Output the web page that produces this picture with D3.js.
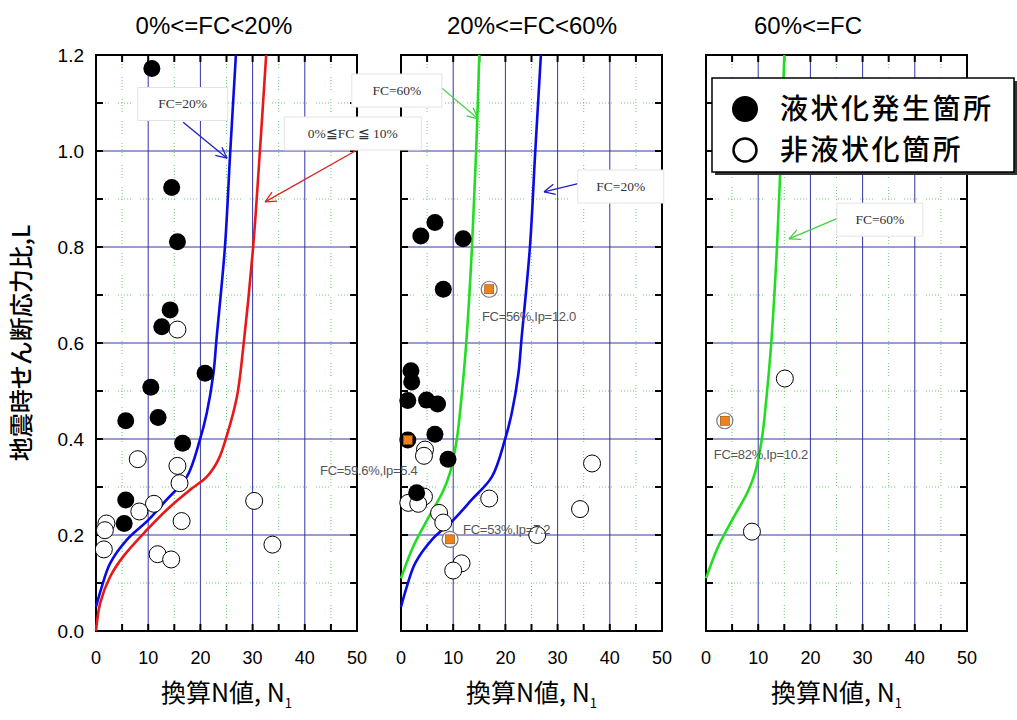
<!DOCTYPE html>
<html>
<head>
<meta charset="utf-8">
<script src="https://cdn.jsdelivr.net/npm/d3@7"></script>
<style>
  body { margin: 0; background: #fff; }
  svg { display: block; }
</style>
</head>
<body>
<script>
const width = 1017, height = 720;

// chart data
const titles = ["0%<=FC<20%", "20%<=FC<60%", "60%<=FC"];
const xTicks = [0, 10, 20, 30, 40, 50];
const yTicks = [0, 0.2, 0.4, 0.6, 0.8, 1.0, 1.2];

// boundary curves [N1, L]
const curveFC20 = [[0,0.05],[1.1,0.092],[2.7,0.141],[5.9,0.19],[10,0.231],[13.5,0.273],[17.4,0.321],[19.9,0.398],[21.2,0.453],[22.5,0.537],[23.1,0.61],[24.7,0.80],[25.7,0.995],[26.8,1.2]];
const curveFC10 = [[0,0],[0.8,0.058],[2.7,0.113],[5.2,0.155],[9.7,0.21],[14.2,0.259],[18,0.294],[21.2,0.321],[23.4,0.356],[25,0.405],[27,0.488],[28.2,0.59],[30.1,0.8],[31.4,1.0],[32.6,1.2]];
const curveFC60 = [[0,0.11],[2.3,0.175],[5.2,0.235],[8,0.29],[9.4,0.33],[10.7,0.4],[11.6,0.488],[12.5,0.6],[13.6,0.8],[14.4,1.0],[15,1.2]];

// observed points [N1, L]
const liq1 = [[10.7,1.172],[14.5,0.924],[15.6,0.811],[14.2,0.669],[12.6,0.634],[20.9,0.537],[10.5,0.508],[5.7,0.438],[11.9,0.445],[16.6,0.391],[5.7,0.273],[5.4,0.224]];
const non1 = [[15.6,0.628],[8.0,0.358],[15.6,0.344],[16.0,0.308],[11.1,0.265],[8.3,0.249],[2.0,0.224],[1.7,0.21],[1.5,0.17],[16.4,0.229],[11.8,0.16],[14.4,0.149],[30.3,0.271],[33.8,0.18]];
const liq2 = [[6.5,0.851],[3.8,0.823],[11.9,0.817],[8.1,0.712],[1.9,0.542],[2.05,0.519],[1.3,0.48],[4.9,0.481],[7.0,0.473],[6.5,0.41],[9.0,0.358],[3.0,0.288],[1.3,0.398]];
const non2 = [[4.6,0.378],[4.4,0.365],[4.4,0.28],[1.4,0.267],[3.3,0.265],[7.3,0.246],[8.1,0.226],[16.9,0.276],[36.6,0.349],[34.3,0.254],[26.1,0.2],[11.6,0.141],[10.0,0.126]];
const liq3 = [];
const non3 = [[15.1,0.526],[8.8,0.207]];

// points with plasticity notes [N1, L, liquefied, label, labelN1, labelL]
const marked2 = [[16.9,0.712,false,"FC=56%,Ip=12.0",15.5,0.656],[1.3,0.398,true,"FC=59.6%,Ip=5.4",-15.5,0.335],[9.4,0.191,false,"FC=53%,Ip=7.2",11.9,0.2125]];
const marked3 = [[3.6,0.438,false,"FC=82%,Ip=10.2",1.5,0.369]];

// callouts: [panel, text, textN1, textL, fromN1, fromL, toN1, toL, boxW, color]
const callouts = [
  [0, "FC=20%", 16.6, 1.099, 16.7, 1.06, 25.1, 0.985, 90, "#2020c0"],
  [0, "0%≦FC ≦ 10%", 49.2, 1.0375, 50, 1.002, 32.4, 0.894, 137, "#e02020"],
  [1, "FC=60%", -0.8, 1.127, 7.85, 1.131, 14.75, 1.067, 90, "#40d040"],
  [1, "FC=20%", 42.1, 0.927, 34.3, 0.933, 27.4, 0.915, 86, "#2020c0"],
  [2, "FC=60%", 33.3, 0.858, 25.3, 0.86, 15.9, 0.817, 86, "#40d040"]
];

const panels = [
  { left: 96,  title: titles[0], tx: 214, curves: [[curveFC20, "#0a0ae6"], [curveFC10, "#e81818"]], liq: liq1, non: non1, marked: [] },
  { left: 401, title: titles[1], tx: 532, curves: [[curveFC60, "#22dd22"], [curveFC20, "#0a0ae6"]], liq: liq2, non: non2, marked: marked2 },
  { left: 706, title: titles[2], tx: 808, curves: [[curveFC60, "#22dd22"]], liq: liq3, non: non3, marked: marked3 }
];

const pw = 261, plotTop = 55, plotBottom = 631;
const y = d3.scaleLinear().domain([0, 1.2]).range([plotBottom, plotTop]);

const svg = d3.select("body").append("svg")
    .attr("width", width).attr("height", height)
    .style("font-family", "'Liberation Sans', Arial, sans-serif");
svg.append("rect").attr("width", width).attr("height", height).attr("fill", "#fff");

const cond = "'Liberation Sans Narrow', 'Liberation Sans', sans-serif";
const jp = "'Noto Sans CJK JP', sans-serif";

panels.forEach((p, pi) => {
  const x = d3.scaleLinear().domain([0, 50]).range([p.left, p.left + pw]);
  p.x = x;
  const g = svg.append("g");

  // green dotted minor grid
  const minX = d3.range(5, 50, 10), minY = d3.range(0.1, 1.2, 0.2);
  g.selectAll(".mx").data(minX).enter().append("line")
    .attr("x1", d => x(d)).attr("x2", d => x(d)).attr("y1", plotTop).attr("y2", plotBottom)
    .attr("stroke", "#66cc66").attr("stroke-width", 1).attr("stroke-dasharray", "1 2 1 2 1 2 1 2 1 9");
  g.selectAll(".my").data(minY).enter().append("line")
    .attr("x1", p.left).attr("x2", p.left + pw).attr("y1", d => y(d)).attr("y2", d => y(d))
    .attr("stroke", "#66cc66").attr("stroke-width", 1).attr("stroke-dasharray", "1 2 1 2 1 2 1 2 1 9");

  // blue major grid
  g.selectAll(".gx").data([10, 20, 30, 40]).enter().append("line")
    .attr("x1", d => x(d)).attr("x2", d => x(d)).attr("y1", plotTop).attr("y2", plotBottom)
    .attr("stroke", "#3434a8").attr("stroke-width", 1);
  g.selectAll(".gy").data([0.2, 0.4, 0.6, 0.8, 1.0]).enter().append("line")
    .attr("x1", p.left).attr("x2", p.left + pw).attr("y1", d => y(d)).attr("y2", d => y(d))
    .attr("stroke", "#3434a8").attr("stroke-width", 1);

  // inward ticks
  const tx = d3.range(0, 51, 5), ty = d3.range(0, 1.21, 0.1);
  const tl = 7;
  tx.forEach(v => {
    g.append("line").attr("x1", x(v)).attr("x2", x(v)).attr("y1", plotTop).attr("y2", plotTop + tl).attr("stroke", "#000").attr("stroke-width", 2);
    g.append("line").attr("x1", x(v)).attr("x2", x(v)).attr("y1", plotBottom).attr("y2", plotBottom - tl).attr("stroke", "#000").attr("stroke-width", 2);
  });
  ty.forEach(v => {
    g.append("line").attr("x1", p.left).attr("x2", p.left + tl).attr("y1", y(v)).attr("y2", y(v)).attr("stroke", "#000").attr("stroke-width", 2);
    g.append("line").attr("x1", p.left + pw).attr("x2", p.left + pw - tl).attr("y1", y(v)).attr("y2", y(v)).attr("stroke", "#000").attr("stroke-width", 2);
  });

  // frame
  g.append("rect").attr("x", p.left).attr("y", plotTop).attr("width", pw).attr("height", plotBottom - plotTop)
    .attr("fill", "none").attr("stroke", "#000").attr("stroke-width", 2);

  // x tick labels
  g.selectAll(".xl").data(xTicks).enter().append("text")
    .attr("x", d => x(d)).attr("y", 664).attr("text-anchor", "middle")
    .attr("font-family", cond).attr("font-size", 18).text(d => d);

  // x axis title
  const xt = g.append("text").attr("x", p.left + pw / 2).attr("y", 702).attr("text-anchor", "middle")
    .attr("font-family", jp).attr("font-size", 25);
  xt.append("tspan").text("換算N値, N");
  xt.append("tspan").attr("font-size", 13).attr("dy", 6).text("1");

  // panel title
  g.append("text").attr("x", p.tx).attr("y", 34).attr("text-anchor", "middle")
    .attr("font-family", cond).attr("font-size", 24).text(p.title);

  // curves
  const line = d3.line().x(d => x(d[0])).y(d => y(d[1])).curve(d3.curveCatmullRom.alpha(0.5));
  p.curves.forEach(([data, color]) => {
    g.append("path").datum(data).attr("d", line).attr("fill", "none")
      .attr("stroke", color).attr("stroke-width", 2.6);
  });

  // points
  g.selectAll(".non").data(p.non).enter().append("circle")
    .attr("cx", d => x(d[0])).attr("cy", d => y(d[1])).attr("r", 8.5)
    .attr("fill", "#fff").attr("stroke", "#000").attr("stroke-width", 1);
  g.selectAll(".liq").data(p.liq).enter().append("circle")
    .attr("cx", d => x(d[0])).attr("cy", d => y(d[1])).attr("r", 8.5)
    .attr("fill", "#000");

  // marked points with orange squares
  p.marked.forEach(d => {
    if (!d[2]) {
      g.append("circle").attr("cx", x(d[0])).attr("cy", y(d[1])).attr("r", 8)
        .attr("fill", "#fff").attr("stroke", "#777").attr("stroke-width", 1.2);
    }
    g.append("rect").attr("x", x(d[0]) - 4.5).attr("y", y(d[1]) - 4.5).attr("width", 9).attr("height", 9)
      .attr("fill", "#f0801a").attr("stroke", "#8a4a10").attr("stroke-width", 0.6);
  });
});

// y axis tick labels and title
svg.selectAll(".yl").data(yTicks).enter().append("text")
  .attr("x", 84).attr("y", d => y(d) + 7).attr("text-anchor", "end")
  .attr("font-size", 19).text(d => d.toFixed(1));

svg.append("text").attr("transform", "translate(30,343) rotate(-90)")
  .attr("text-anchor", "middle").attr("font-family", jp).attr("font-size", 24)
  .attr("font-weight", 500).text("地震時せん断応力比,L");

// annotations for marked points
panels.forEach(p => {
  p.marked.forEach(d => {
    svg.append("text").attr("x", p.x(d[4])).attr("y", y(d[5]) + 5)
      .attr("font-size", 13).attr("fill", "#555").attr("letter-spacing", -0.3).text(d[3]);
  });
});

// callout boxes with arrows
callouts.forEach(c => {
  const [pi, text, tN, tL, fN, fL, toN, toL, bw, color] = c;
  const x = panels[pi].x;
  const cx = x(tN), cy = y(tL);
  const x1 = x(fN), y1 = y(fL), x2 = x(toN), y2 = y(toL);
  svg.append("line").attr("x1", x1).attr("y1", y1).attr("x2", x2).attr("y2", y2)
    .attr("stroke", color).attr("stroke-width", 1.3);
  const ang = Math.atan2(y2 - y1, x2 - x1), hl = 12, ha = 0.45;
  [ang + Math.PI - ha, ang + Math.PI + ha].forEach(a => {
    svg.append("line").attr("x1", x2).attr("y1", y2)
      .attr("x2", x2 + hl * Math.cos(a)).attr("y2", y2 + hl * Math.sin(a))
      .attr("stroke", color).attr("stroke-width", 1.3);
  });
  svg.append("rect").attr("x", cx - bw / 2).attr("y", cy - 16).attr("width", bw).attr("height", 33)
    .attr("fill", "#fff").attr("stroke", "#e4e4e4").attr("stroke-width", 1);
  svg.append("text").attr("x", cx).attr("y", cy + 5).attr("text-anchor", "middle")
    .attr("font-family", "'Liberation Serif', 'Times New Roman', serif").attr("font-size", 13.5)
    .attr("fill", "#333").text(text);
});

// legend
const lg = svg.append("g");
lg.append("rect").attr("x", 715).attr("y", 81).attr("width", 302).attr("height", 94).attr("fill", "#333");
lg.append("rect").attr("x", 712).attr("y", 78).attr("width", 302).attr("height", 94)
  .attr("fill", "#fff").attr("stroke", "#000").attr("stroke-width", 1.5);
lg.append("circle").attr("cx", 745).attr("cy", 109).attr("r", 13).attr("fill", "#000");
lg.append("circle").attr("cx", 745).attr("cy", 150).attr("r", 11.5).attr("fill", "#fff")
  .attr("stroke", "#000").attr("stroke-width", 2.5);
lg.append("text").attr("x", 780).attr("y", 119).attr("font-family", jp).attr("font-size", 28)
  .attr("letter-spacing", 2.5).attr("font-weight", 500).text("液状化発生箇所");
lg.append("text").attr("x", 780).attr("y", 160).attr("font-family", jp).attr("font-size", 28)
  .attr("letter-spacing", 2.5).attr("font-weight", 500).text("非液状化箇所");
</script>
</body>
</html>
